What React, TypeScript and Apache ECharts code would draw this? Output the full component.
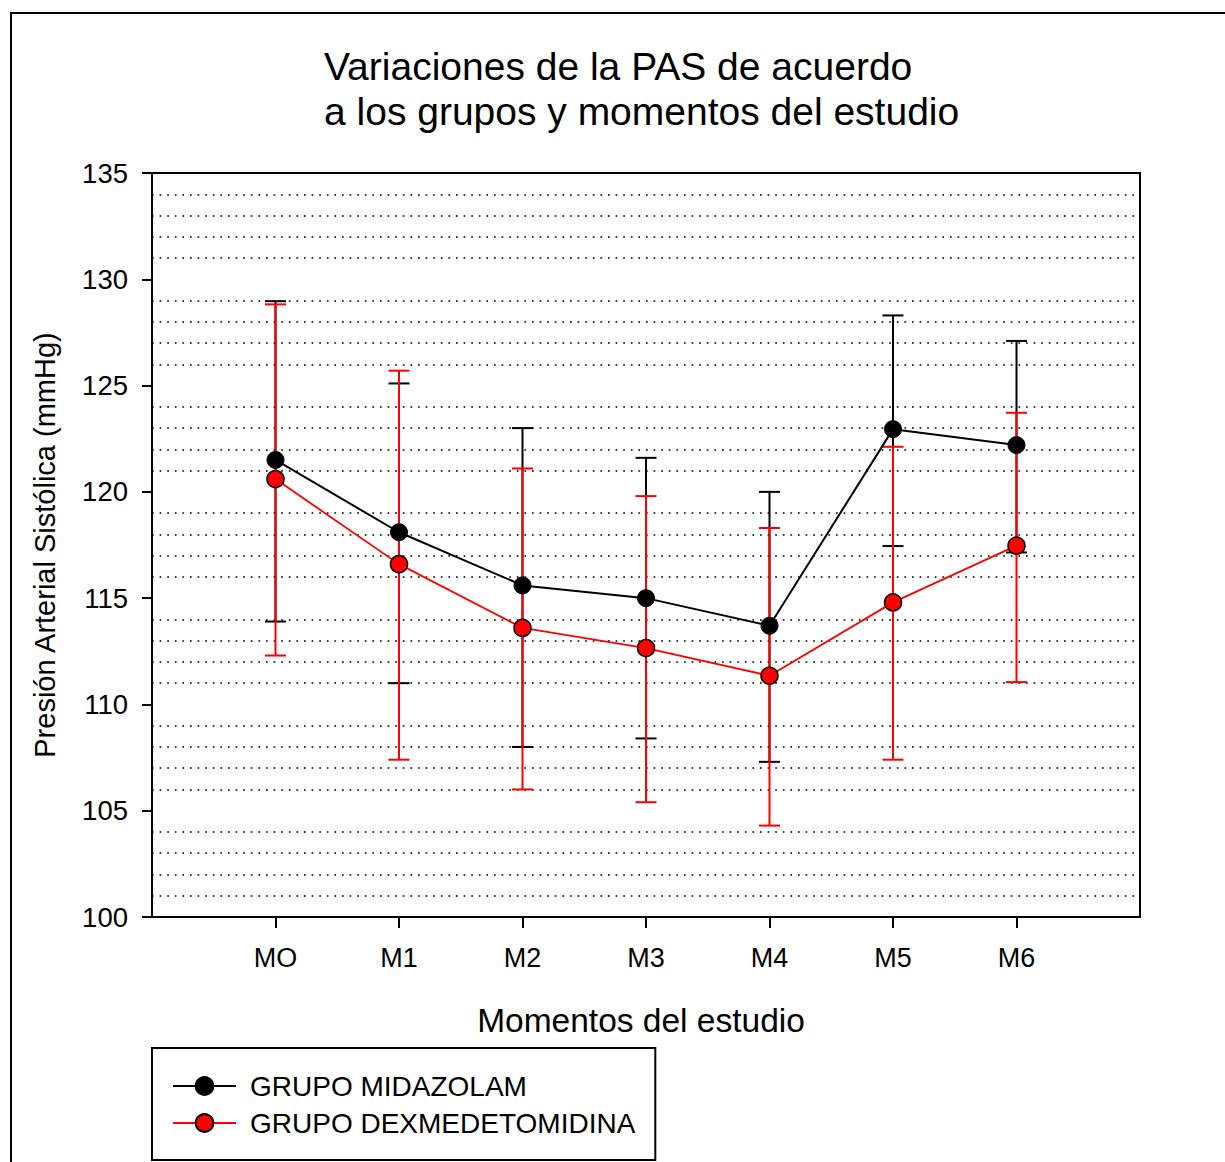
import React, { useEffect, useRef } from 'react';
import * as echarts from 'echarts';

const categories = ['MO', 'M1', 'M2', 'M3', 'M4', 'M5', 'M6'];
const midazolamMean = [121.5, 118.1, 115.6, 115.0, 113.7, 122.95, 122.2];
const midazolamLow = [113.9, 111.0, 108.0, 108.4, 107.3, 117.45, 117.15];
const midazolamHigh = [128.97, 125.1, 123.0, 121.6, 120.0, 128.3, 127.1];
const dexMean = [120.6, 116.6, 113.6, 112.65, 111.35, 114.8, 117.47];
const dexLow = [112.3, 107.4, 106.0, 105.4, 104.3, 107.4, 111.05];
const dexHigh = [128.82, 125.7, 121.1, 119.8, 118.3, 122.12, 123.72];

const seriesNames = ['GRUPO MIDAZOLAM', 'GRUPO DEXMEDETOMIDINA'];
const titleText = 'Variaciones de la PAS de acuerdo\na los grupos y momentos del estudio';
const xAxisName = 'Momentos del estudio';
const yAxisName = 'Presión Arterial Sistólica (mmHg)';

const FONT = '"Liberation Sans", Arial, Helvetica, sans-serif';

function errorBarSeries(name: string, low: number[], high: number[], color: string, z: number) {
  return {
    type: 'custom',
    name,
    z,
    silent: true,
    encode: { x: 0, y: [1, 2] },
    data: categories.map((_, i) => [i + 1, low[i], high[i]]),
    renderItem: (params: any, api: any) => {
      const x = api.value(0);
      const pLo = api.coord([x, api.value(1)]);
      const pHi = api.coord([x, api.value(2)]);
      const hw = 10.5;
      const st = { stroke: color, lineWidth: 2 };
      return {
        type: 'group',
        children: [
          { type: 'line', shape: { x1: pHi[0], y1: pHi[1], x2: pLo[0], y2: pLo[1] }, style: st },
          { type: 'line', shape: { x1: pHi[0] - hw, y1: pHi[1], x2: pHi[0] + hw, y2: pHi[1] }, style: st },
          { type: 'line', shape: { x1: pLo[0] - hw, y1: pLo[1], x2: pLo[0] + hw, y2: pLo[1] }, style: st },
        ],
      };
    },
  };
}

export default function App() {
  const ref = useRef<HTMLDivElement>(null);
  useEffect(() => {
    document.body.style.margin = '0';
    const chart = echarts.init(ref.current!, null, { renderer: 'svg' });
    const tickVals = categories.map((_, i) => i + 1);
    chart.setOption({
      animation: false,
      backgroundColor: '#fff',
      title: {
        text: titleText,
        left: 324,
        top: 44,
        padding: 0,
        textStyle: { fontFamily: FONT, fontSize: 39, fontWeight: 'normal', color: '#000', lineHeight: 45 },
      },
      graphic: [
        {
          type: 'rect',
          shape: { x: 11, y: 13, width: 1400, height: 1400 },
          style: { fill: 'none', stroke: '#000', lineWidth: 2 },
          silent: true,
          z: -10,
        },
      ],
      legend: {
        data: seriesNames,
        orient: 'vertical',
        left: 152,
        top: 1048,
        itemWidth: 63,
        itemHeight: 22,
        itemGap: 9,
        padding: [24, 20, 23, 20],
        borderColor: '#000',
        borderWidth: 2,
        backgroundColor: '#fff',
        textStyle: { fontFamily: FONT, fontSize: 28, color: '#000', padding: [0, 0, 0, 9] },
      },
      grid: {
        left: 152,
        top: 173,
        right: 85,
        bottom: 245,
        show: true,
        borderColor: '#000',
        borderWidth: 2,
        backgroundColor: 'transparent',
      },
      xAxis: {
        type: 'value',
        min: 0,
        max: 8,
        interval: 1,
        name: xAxisName,
        nameLocation: 'middle',
        nameGap: 86,
        nameTextStyle: { fontFamily: FONT, fontSize: 33.5, color: '#000', padding: [0, 10, 0, 0] },
        axisLine: { show: true, lineStyle: { color: '#000', width: 2 } },
        axisTick: { show: true, inside: false, length: 11, customValues: tickVals, lineStyle: { color: '#000', width: 2 } },
        axisLabel: {
          customValues: tickVals,
          formatter: (v: number) => categories[Math.round(v) - 1] ?? '',
          fontFamily: FONT,
          fontSize: 27,
          color: '#000',
          margin: 27,
        },
        splitLine: { show: false },
      },
      yAxis: {
        type: 'value',
        min: 100,
        max: 135,
        interval: 5,
        name: yAxisName,
        nameLocation: 'middle',
        nameGap: 93,
        nameTextStyle: { fontFamily: FONT, fontSize: 29, color: '#000' },
        axisLine: { show: true, lineStyle: { color: '#000', width: 2 } },
        axisTick: { show: true, inside: false, length: 10, lineStyle: { color: '#000', width: 2 } },
        axisLabel: { fontFamily: FONT, fontSize: 27.5, color: '#000', margin: 24 },
        splitLine: { show: false },
        minorTick: { show: false, splitNumber: 5 },
        minorSplitLine: { show: true, lineStyle: { color: '#000', width: 1.7, type: [1.7, 5.9] } },
      },
      series: [
        errorBarSeries('eb-mid', midazolamLow, midazolamHigh, '#000', 2),
        errorBarSeries('eb-dex', dexLow, dexHigh, '#ff0000', 3),
        {
          type: 'line',
          name: seriesNames[0],
          z: 4,
          data: categories.map((_, i) => [i + 1, midazolamMean[i]]),
          symbol: 'circle',
          symbolSize: 17,
          lineStyle: { color: '#000', width: 2 },
          itemStyle: { color: '#000', borderColor: '#000', borderWidth: 1 },
        },
        {
          type: 'line',
          name: seriesNames[1],
          z: 5,
          data: categories.map((_, i) => [i + 1, dexMean[i]]),
          symbol: 'circle',
          symbolSize: 17,
          lineStyle: { color: '#ff0000', width: 1.8 },
          itemStyle: { color: '#ff0000', borderColor: '#000', borderWidth: 1.5 },
        },
      ],
    });
    return () => chart.dispose();
  }, []);
  return <div ref={ref} style={{ width: 1225, height: 1162 }} />;
}
